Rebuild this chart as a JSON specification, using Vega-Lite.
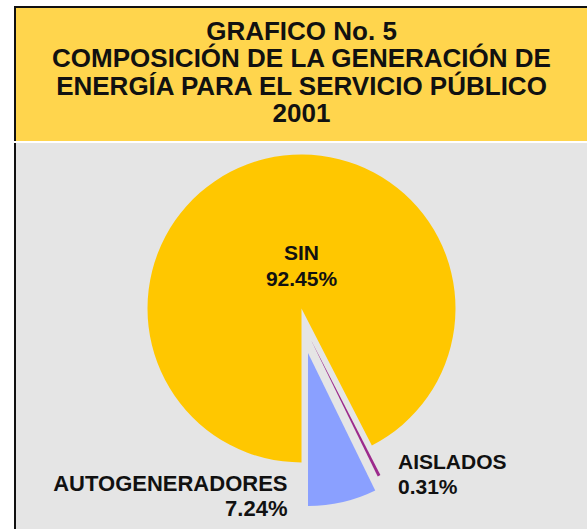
{
  "$schema": "https://vega.github.io/schema/vega-lite/v6.json",
  "background": "white",
  "padding": {"left": 14, "top": 6, "right": 0, "bottom": 0},
  "spacing": 0,
  "config": {"view": {"stroke": null}, "font": "Liberation Sans", "concat": {"spacing": 0}},
  "vconcat": [
    {
      "width": 573,
      "height": 134,
      "view": {"fill": "#FFD54D", "stroke": "#111111", "strokeWidth": 2, "strokeDash": [573, 707, 136, 0]},
      "data": {"values": [{"titulo": "GRAFICO No. 5\nCOMPOSICIÓN DE LA GENERACIÓN DE\nENERGÍA PARA EL SERVICIO PÚBLICO\n2001"}]},
      "mark": {"type": "text", "lineBreak": "\n", "fontSize": 26, "fontWeight": "bold", "lineHeight": 27.4, "align": "center", "baseline": "middle", "color": "#111111", "yOffset": -42},
      "encoding": {"text": {"field": "titulo", "type": "nominal"}}
    },
    {
      "width": 573,
      "height": 389,
      "view": {"fill": "#E5E5E5", "stroke": "#111111", "strokeWidth": 2, "strokeDash": [0, 1535, 389, 0]},
      "data": {"values": [
        {"categoria": "SIN", "valor": 92.45, "orden": 1, "etiqueta": "SIN\n92.45%"},
        {"categoria": "AISLADOS", "valor": 0.31, "orden": 2, "etiqueta": "AISLADOS\n0.31%"},
        {"categoria": "AUTOGENERADORES", "valor": 7.24, "orden": 3, "etiqueta": "AUTOGENERADORES\n7.24%"}
      ]},
      "transform": [{"stack": "valor", "groupby": [], "sort": [{"field": "orden", "order": "ascending"}], "as": ["v0", "v1"]}],
      "encoding": {
        "theta": {"field": "v0", "type": "quantitative", "scale": {"domain": [0, 100], "range": [3.14159265, 9.42477796]}},
        "theta2": {"field": "v1"},
        "color": {"field": "categoria", "type": "nominal", "scale": {"domain": ["SIN", "AUTOGENERADORES", "AISLADOS"], "range": ["#FFC700", "#8AA0FF", "#9C2A8C"]}, "legend": null}
      },
      "layer": [
        {"transform": [{"filter": "datum.categoria === 'SIN'"}], "mark": {"type": "arc", "radius": 154, "xOffset": 0, "yOffset": -29}},
        {"transform": [{"filter": "datum.categoria === 'AUTOGENERADORES'"}], "mark": {"type": "arc", "radius": 153, "xOffset": 6.5, "yOffset": 15.5}},
        {"transform": [{"filter": "datum.categoria === 'AISLADOS'"}], "mark": {"type": "arc", "radius": 153, "xOffset": 9, "yOffset": 1.5}},
        {
          "transform": [{"filter": "datum.categoria === 'SIN'"}],
          "mark": {"type": "text", "lineBreak": "\n", "fontSize": 21, "fontWeight": "bold", "lineHeight": 26.5, "align": "center", "baseline": "middle", "color": "#111111", "xOffset": 0, "yOffset": -84},
          "encoding": {"text": {"field": "etiqueta", "type": "nominal"}, "theta": null, "theta2": null, "color": null}
        },
        {
          "transform": [{"filter": "datum.categoria === 'AUTOGENERADORES'"}],
          "mark": {"type": "text", "lineBreak": "\n", "fontSize": 22, "fontWeight": "bold", "lineHeight": 25, "align": "right", "baseline": "middle", "color": "#111111", "xOffset": -14, "yOffset": 146},
          "encoding": {"text": {"field": "etiqueta", "type": "nominal"}, "theta": null, "theta2": null, "color": null}
        },
        {
          "transform": [{"filter": "datum.categoria === 'AISLADOS'"}],
          "mark": {"type": "text", "lineBreak": "\n", "fontSize": 21, "fontWeight": "bold", "lineHeight": 25, "align": "left", "baseline": "middle", "color": "#111111", "xOffset": 96.5, "yOffset": 125.5},
          "encoding": {"text": {"field": "etiqueta", "type": "nominal"}, "theta": null, "theta2": null, "color": null}
        }
      ]
    }
  ]
}
